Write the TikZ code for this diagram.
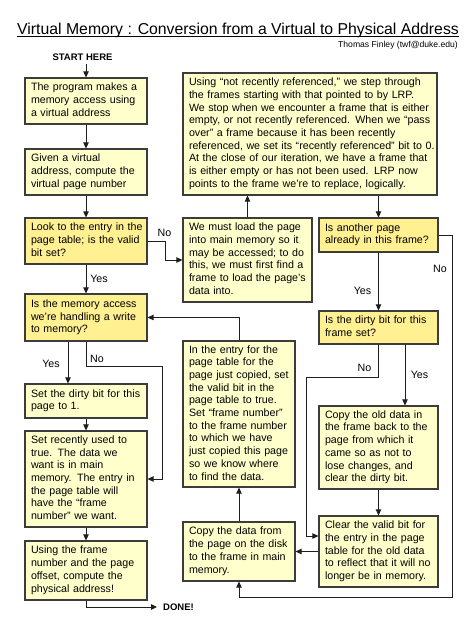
\documentclass[tikz,border=0pt]{standalone}
\usepackage{fontspec}
\setmainfont{Liberation Sans}
\usetikzlibrary{arrows.meta}
\definecolor{proccol}{RGB}{255,255,204}
\definecolor{deccol}{RGB}{255,240,146}
\definecolor{bordercol}{RGB}{60,60,60}
\definecolor{linecol}{RGB}{30,30,30}
\newcommand{\boxlines}[1]{\begin{tabular}{@{}l@{}}#1\end{tabular}}
\newcommand{\boxfont}{\fontsize{10.67pt}{12.7pt}\selectfont}
\tikzset{
  box/.style={draw=bordercol, line width=1.2pt, inner xsep=6pt, inner ysep=1pt,
    align=left, font=\boxfont, anchor=center},
  proc/.style={box, fill=proccol},
  dec/.style={box, fill=deccol},
  arr/.style={draw=linecol, line width=0.9pt, -{Triangle[length=6pt,width=5.5pt]}},
  lbl/.style={font=\boxfont, inner sep=0pt, text=black},
}
\begin{document}
\begin{tikzpicture}[x=1pt,y=-1pt]
\useasboundingbox (0,0) rectangle (474,632);
\fill[white] (0,0) rectangle (474,632);

% title
\node[anchor=base west, inner sep=0pt, font=\fontsize{15.8pt}{18pt}\selectfont] (title) at (17,34.3)
  {Virtual Memory : Conversion from a Virtual to Physical Address};
\draw[line width=0.9pt] ([yshift=-2.6pt]title.base west) -- ([yshift=-2.6pt]title.base east);
\node[anchor=base east, inner sep=0pt, font=\fontsize{8.6pt}{10pt}\selectfont] (author) at (458,47.3)
  {Thomas Finley (twf@duke.edu)};
\node[inner xsep=0pt, inner ysep=3pt, font=\bfseries\fontsize{9.5pt}{11pt}\selectfont] (start) at (82.5,57) {START HERE};

% left column
\node[proc, minimum width=122pt, minimum height=46pt, text width=110pt] (b1) at (86,101)
  {\boxlines{The program makes a\\ memory access using\\ a virtual address}};
\node[proc, minimum width=122pt, minimum height=46pt, text width=110pt] (b2) at (86,172)
  {\boxlines{Given a virtual\\ address, compute the\\ virtual page number}};
\node[dec, minimum width=122pt, minimum height=46pt, text width=110pt] (b3) at (86,241)
  {\boxlines{Look to the entry in the\\ page table; is the valid\\ bit set?}};
\node[dec, minimum width=122pt, minimum height=47pt, text width=110pt] (b11) at (86,317.5)
  {\boxlines{Is the memory access\\ we’re handling a write\\ to memory?}};
\node[proc, minimum width=122pt, minimum height=34pt, text width=110pt] (b12) at (86,401)
  {\boxlines{Set the dirty bit for this\\ page to 1.}};
\node[proc, minimum width=122pt, minimum height=96pt, text width=110pt] (b13) at (86,479)
  {\boxlines{Set recently used to\\ true.  The data we\\ want is in main\\ memory.  The entry in\\ the page table will\\ have the “frame\\ number” we want.}};
\node[proc, minimum width=122pt, minimum height=59pt, text width=110pt] (b14) at (86,570.5)
  {\boxlines{Using the frame\\ number and the page\\ offset, compute the\\ physical address!}};
\node[inner sep=0pt, anchor=west, font=\bfseries\fontsize{9.5pt}{11pt}\selectfont] (done) at (163,607) {DONE!};

% middle column
\node[proc, minimum width=254pt, minimum height=122pt, text width=242pt] (bR) at (310,134)
  {\boxlines{Using “not recently referenced,” we step through\\ the frames starting with that pointed to by LRP.\\ We stop when we encounter a frame that is either\\ empty, or not recently referenced.  When we “pass\\ over” a frame because it has been recently\\ referenced, we set its “recently referenced” bit to 0.\\ At the close of our iteration, we have a frame that\\ is either empty or has not been used.  LRP now\\ points to the frame we’re to replace, logically.}};
\node[proc, minimum width=129pt, minimum height=84pt, text width=117pt] (b4) at (247.5,260)
  {\boxlines{We must load the page\\ into main memory so it\\ may be accessed; to do\\ this, we must first find a\\ frame to load the page’s\\ data into.}};
\node[proc, minimum width=112pt, minimum height=146pt, text width=100pt] (b10) at (239,414)
  {\boxlines{In the entry for the\\ page table for the\\ page just copied, set\\ the valid bit in the\\ page table to true.\\ Set “frame number”\\ to the frame number\\ to which we have\\ just copied this page\\ so we know where\\ to find the data.}};
\node[proc, minimum width=112pt, minimum height=59pt, text width=100pt] (b9) at (239,551.5)
  {\boxlines{Copy the data from\\ the page on the disk\\ to the frame in main\\ memory.}};

% right column
\node[dec, minimum width=119pt, minimum height=34pt, text width=107pt] (b5) at (378.5,235)
  {\boxlines{Is another page\\ already in this frame?}};
\node[dec, minimum width=119pt, minimum height=33pt, text width=107pt] (b6) at (378.5,327.5)
  {\boxlines{Is the dirty bit for this\\ frame set?}};
\node[proc, minimum width=119pt, minimum height=83pt, text width=107pt] (b7) at (378.5,447.5)
  {\boxlines{Copy the old data in\\ the frame back to the\\ page from which it\\ came so as not to\\ lose changes, and\\ clear the dirty bit.}};
\node[proc, minimum width=119pt, minimum height=71pt, text width=107pt] (b8) at (378.5,551.5)
  {\boxlines{Clear the valid bit for\\ the entry in the page\\ table for the old data\\ to reflect that it will no\\ longer be in memory.}};

% helper coordinates
\coordinate (c1) at (452,597);
\coordinate (c2) at (306,377);
\coordinate (c3) at (162,366);

% connectors
\draw[arr] (b1.north |- start.south) -- (b1.north);
\draw[arr] (b1.south) -- (b2.north);
\draw[arr] (b2.south) -- (b3.north);
\draw[arr] (b3.east) -- ++(18,0) |- (b4.west);
\draw[arr] (b4.north) -- (b4.north |- bR.south);
\draw[arr] (b5.north |- bR.south) -- (b5.north);
\draw[arr] (b5.east) -| (c1) -| (b9.south);
\draw[arr] (b5.south) -- (b6.north);
\draw[arr] (b6.south) |- (c2) |- ([yshift=15.5pt]b8.west);
\draw[arr] ([xshift=26.5pt]b6.south) -- ([xshift=26.5pt]b6.south |- b7.north);
\draw[arr] (b7.south) -- (b8.north);
\draw[arr] (b8.west) -- (b9.east);
\draw[arr] (b9.north) -- (b10.south);
\draw[arr] (b10.north) |- (b11.east);
\draw[arr] (b3.south) -- (b11.north);
\draw[arr] ([xshift=-18pt]b11.south) -- ([xshift=-18pt]b12.north);
\draw[arr] (b11.south) |- (c3) |- (b13.east);
\draw[arr] (b12.south) -- (b13.north);
\draw[arr] (b13.south) -- (b14.north);
\draw[arr] (b14.south) |- ([xshift=-6pt]done.west);

% labels
\node[lbl] (l1) at (164.5,233) {No};
\node[lbl] (l2) at (99,279.3) {Yes};
\node[lbl] (l3) at (51,364) {Yes};
\node[lbl] (l4) at (97,359.3) {No};
\node[lbl] (l5) at (440,269) {No};
\node[lbl] (l6) at (362.5,290.7) {Yes};
\node[lbl] (l7) at (364.5,368.3) {No};
\node[lbl] (l8) at (419.5,375) {Yes};
\end{tikzpicture}
\end{document}
